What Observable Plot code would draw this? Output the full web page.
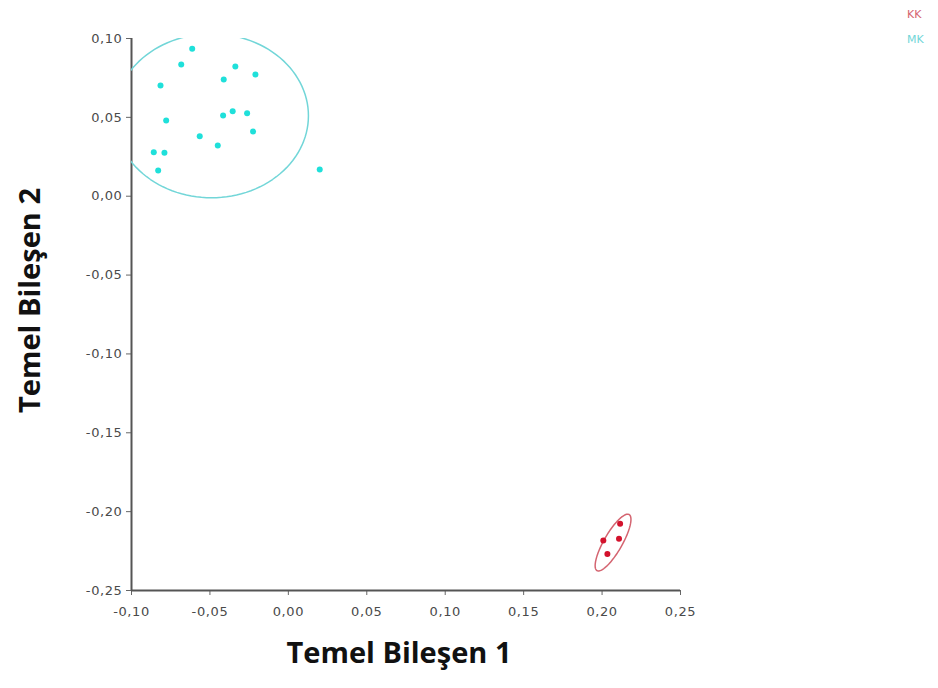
<!DOCTYPE html>
<html>
<head>
<meta charset="utf-8">
<script src="https://cdn.jsdelivr.net/npm/d3@7"></script>
<script src="https://cdn.jsdelivr.net/npm/@observablehq/plot@0.6"></script>
<style>
  html, body { margin: 0; padding: 0; background: #fff; }
  #chart { position: relative; width: 938px; height: 688px; }
  .legend { position: absolute; left: 907px; font: 11px "DejaVu Sans", sans-serif; }
  #chart g[aria-label="x-axis tick label"] text,
  #chart g[aria-label="y-axis tick label"] text { letter-spacing: 0.6px; }
</style>
</head>
<body>
<div id="chart"></div>
<script>
// Principal component scores, group MK
const mkPC1 = [-0.0613, -0.0683, -0.0815, -0.0338, -0.0412, -0.0210, -0.0779, -0.0416, -0.0355,
               -0.0263, -0.0565, -0.0225, -0.0450, -0.0858, -0.0790, -0.0830, 0.0200];
const mkPC2 = [0.0935, 0.0835, 0.0702, 0.0822, 0.0740, 0.0772, 0.0480, 0.0512, 0.0539,
               0.0526, 0.0380, 0.0410, 0.0321, 0.0279, 0.0275, 0.0163, 0.0169];
// Principal component scores, group KK
const kkPC1 = [0.2115, 0.2008, 0.2108, 0.2034];
const kkPC2 = [-0.2077, -0.2183, -0.2172, -0.2268];

// Confidence ellipses: [center x, center y, radius x, radius y, rotation (deg)]
const mkEllipse = [-0.049, 0.051, 0.0618, 0.052, 0];
const kkEllipse = [0.207, -0.2196, 0.0205, 0.0058, 60];

const groups = ["KK", "MK"];
const groupColors = ["#d3122c", "#1fe0da"];
const ellipseColors = ["#d46470", "#72d6d8"];

const xTicks = [-0.10, -0.05, 0.00, 0.05, 0.10, 0.15, 0.20, 0.25];
const yTicks = [0.10, 0.05, 0.00, -0.05, -0.10, -0.15, -0.20, -0.25];
const xTitle = "Temel Bileşen 1";
const yTitle = "Temel Bileşen 2";

const points = [
  ...mkPC1.map((v, i) => ({group: "MK", pc1: v, pc2: mkPC2[i]})),
  ...kkPC1.map((v, i) => ({group: "KK", pc1: v, pc2: kkPC2[i]}))
];

function ellipsePath(group, [cx, cy, rx, ry, deg]) {
  const a = deg * Math.PI / 180;
  return d3.range(0, 361, 3).map(t => {
    const u = t * Math.PI / 180;
    const ex = rx * Math.cos(u), ey = ry * Math.sin(u);
    return {group, pc1: cx + ex * Math.cos(a) - ey * Math.sin(a), pc2: cy + ex * Math.sin(a) + ey * Math.cos(a)};
  });
}

const locale = d3.formatLocale({decimal: ",", thousands: ".", grouping: [3], currency: ["", ""], minus: "-"});
const fmt = locale.format(".2f");
const titleFont = "'Open Sans', sans-serif";

const chart = Plot.plot({
  width: 938,
  height: 688,
  marginLeft: 131,
  marginRight: 258,
  marginTop: 38,
  marginBottom: 98,
  style: {fontFamily: "'DejaVu Sans', sans-serif", fontSize: "13px", color: "#555"},
  x: {domain: [-0.10, 0.25], label: null},
  y: {domain: [-0.25, 0.10], label: null},
  color: {domain: groups, range: groupColors},
  marks: [
    Plot.axisX({ticks: xTicks, tickFormat: fmt, tickSize: 5, tickPadding: 11, label: null,
                stroke: "#666", fill: "#4a4a4a", fontSize: 13}),
    Plot.axisY({ticks: yTicks, tickFormat: fmt, tickSize: 5, tickPadding: 4, label: null,
                stroke: "#666", fill: "#4a4a4a", fontSize: 13}),
    Plot.text([xTitle], {frameAnchor: "bottom", dy: 72, dx: -7, text: d => d, fontSize: 29,
                         fontWeight: "bold", fill: "#111", fontFamily: titleFont}),
    Plot.text([yTitle], {frameAnchor: "left", dx: -101, dy: -14, rotate: -90, textAnchor: "middle",
                         text: d => d, fontSize: 29, fontWeight: "bold", fill: "#111", fontFamily: titleFont}),
    Plot.ruleX([-0.10], {stroke: "#555", strokeWidth: 2}),
    Plot.ruleY([-0.25], {stroke: "#555", strokeWidth: 2}),
    Plot.line(ellipsePath("MK", mkEllipse), {x: "pc1", y: "pc2", stroke: ellipseColors[1], strokeWidth: 1.5, clip: true}),
    Plot.line(ellipsePath("KK", kkEllipse), {x: "pc1", y: "pc2", stroke: ellipseColors[0], strokeWidth: 1.5, clip: true}),
    Plot.dot(points, {x: "pc1", y: "pc2", fill: "group", r: 3})
  ]
});

const root = document.getElementById("chart");
root.appendChild(chart);
groups.forEach((g, i) => {
  const d = document.createElement("div");
  d.className = "legend";
  d.style.top = (8 + i * 25) + "px";
  d.style.color = ellipseColors[i];
  d.textContent = g;
  root.appendChild(d);
});
</script>
</body>
</html>
